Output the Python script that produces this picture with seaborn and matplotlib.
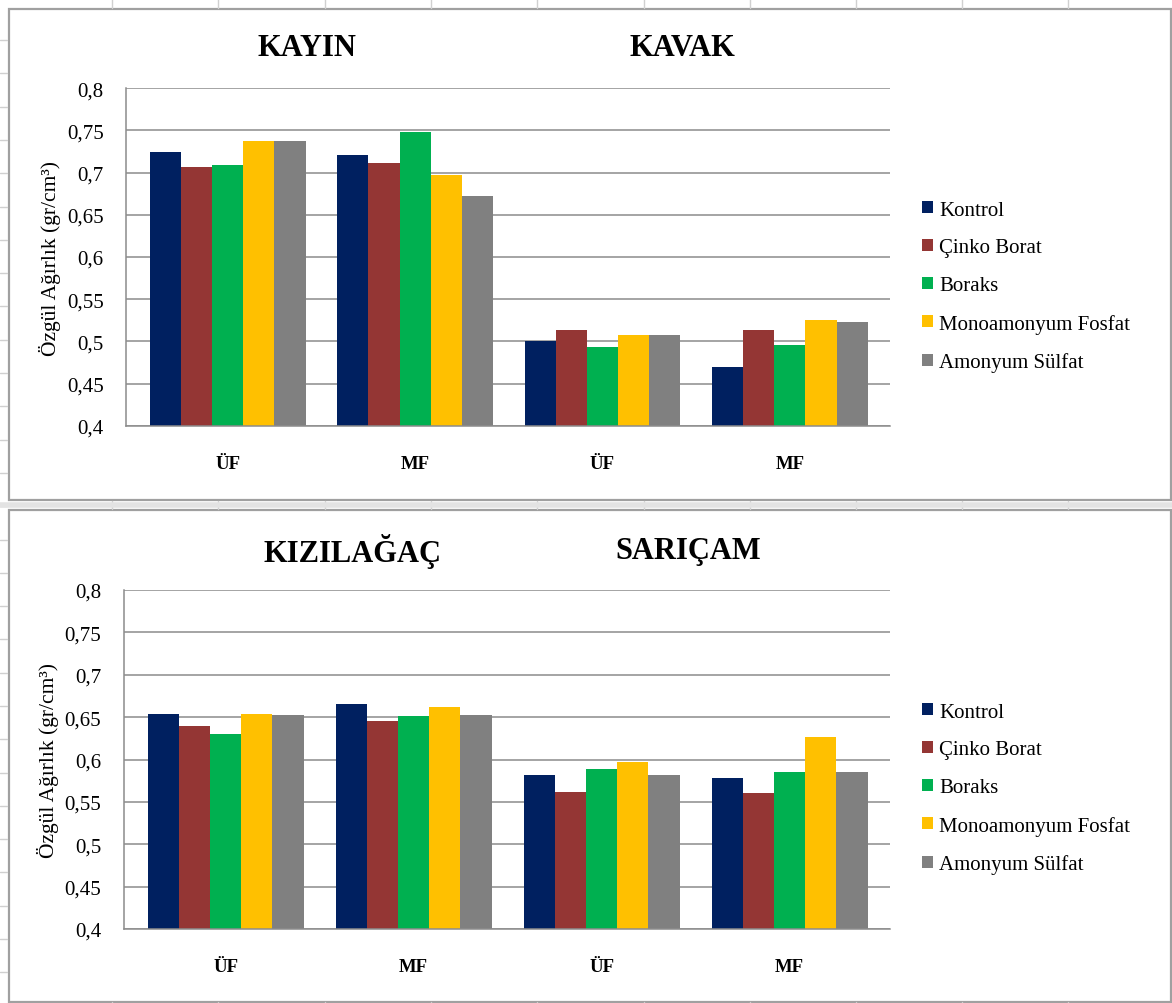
import numpy as np
import pandas as pd
import seaborn as sns
import matplotlib.pyplot as plt
from matplotlib.patches import Rectangle, Patch
from matplotlib.lines import Line2D

# ---- data -------------------------------------------------------------
species = ["KAYIN", "KAVAK", "KIZILAĞAÇ", "SARIÇAM"]
resins = ["ÜF", "MF"]
treatments = ["Kontrol", "Çinko Borat", "Boraks", "Monoamonyum Fosfat", "Amonyum Sülfat"]
colors = ["#002060", "#943634", "#00B050", "#FFC000", "#808080"]

# rows: ÜF, MF ; columns follow `treatments`
kayin = [[0.725, 0.707, 0.709, 0.738, 0.737],
         [0.721, 0.711, 0.748, 0.697, 0.672]]
kavak = [[0.501, 0.513, 0.493, 0.507, 0.507],
         [0.470, 0.513, 0.496, 0.525, 0.523]]
kizilagac = [[0.654, 0.639, 0.630, 0.654, 0.652],
             [0.666, 0.646, 0.651, 0.662, 0.652]]
saricam = [[0.582, 0.562, 0.589, 0.597, 0.582],
           [0.578, 0.560, 0.585, 0.627, 0.585]]

yticks = [0.4, 0.45, 0.5, 0.55, 0.6, 0.65, 0.7, 0.75, 0.8]
ylabel = "Özgül Ağırlık (gr/cm³)"

rows = []
for sp, table in zip(species, [kayin, kavak, kizilagac, saricam]):
    for r, vals in zip(resins, table):
        for t, v in zip(treatments, vals):
            rows.append({"tür": sp, "tutkal": r, "grup": f"{sp} {r}",
                         "işlem": t, "değer": v})
df = pd.DataFrame(rows)

# ---- figure -----------------------------------------------------------
sns.set_style("white")
plt.rcParams["font.family"] = ["Liberation Serif", "DejaVu Serif"]
plt.rcParams.update({"text.color": "black", "axes.labelcolor": "black",
                     "xtick.color": "black", "ytick.color": "black"})

W, H = 1172, 1004
fig = plt.figure(figsize=(W / 100, H / 100), dpi=100)
fig.patch.set_facecolor("white")


def fx(px):
    return px / W


def fy(py):
    return 1 - py / H


GRID = "#8C8C8C"

# spreadsheet cell marks behind the chart objects
col_x = [112, 218, 325, 431, 537, 644, 750, 856, 962, 1068]
for x in col_x:
    for y0, y1 in [(0, 9), (502, 510), (1003, 1004)]:
        fig.add_artist(Line2D([fx(x), fx(x)], [fy(y0), fy(y1)],
                              color="#D0D0D0", lw=1))
for y in np.arange(41, H, 33.3):
    fig.add_artist(Line2D([fx(0), fx(7)], [fy(y), fy(y)], color="#D0D0D0", lw=1))
fig.add_artist(Line2D([fx(0), fx(W)], [fy(506), fy(506)], color="#E3E3E3", lw=4))

# chart object frames
for top, bot in [(9.5, 501), (511, 1003)]:
    fig.add_artist(Rectangle((fx(9), fy(bot)), fx(1171) - fx(9), fy(top) - fy(bot),
                             fill=False, edgecolor="#A0A0A0", lw=1.6))

panels = [
    {"pair": ("KAYIN", "KAVAK"), "box": (126, 89.3, 890, 426.7),
     "titles": [(307, 49), (682, 49)], "legend_y": 287.5},
    {"pair": ("KIZILAĞAÇ", "SARIÇAM"), "box": (123.5, 591, 890, 930),
     "titles": [(352, 552), (688, 552)], "legend_y": 789.5},
]

for p in panels:
    x0, y0, x1, y1 = p["box"]
    ax = fig.add_axes([fx(x0), fy(y1), fx(x1) - fx(x0), fy(y0) - fy(y1)])
    sub = df[df["tür"].isin(p["pair"])]
    order = [f"{s} {r}" for s in p["pair"] for r in resins]
    sns.barplot(data=sub, x="grup", y="değer", hue="işlem", order=order,
                hue_order=treatments, palette=colors, saturation=1,
                width=0.83, linewidth=0, edgecolor="none", ax=ax, legend=False)

    ax.set_ylim(0.4, 0.8)
    xl = (-0.543, 3.534)
    ax.set_xlim(*xl)
    ax.set_yticks(yticks)
    ax.set_yticklabels([f"{v:g}".replace(".", ",") for v in yticks], fontsize=15)
    ax.set_xticks(range(4))
    ax.set_xticklabels(["ÜF", "MF", "ÜF", "MF"], fontsize=13.5, fontweight="bold")
    ax.set_xticks(list(xl), minor=True)
    ax.tick_params(axis="x", which="major", length=0, pad=21)
    ax.tick_params(axis="x", which="minor", length=8, width=1.1, color=GRID)
    ax.tick_params(axis="y", length=8, width=1.1, color=GRID, pad=8)
    ax.set_xlabel("")
    ax.set_ylabel(ylabel, fontsize=15.5, labelpad=4, color="black")

    ax.yaxis.grid(True, color=GRID, lw=1.1)
    ax.xaxis.grid(False)
    ax.set_axisbelow(True)
    for side in ["top", "right"]:
        ax.spines[side].set_visible(False)
    for side in ["left", "bottom"]:
        ax.spines[side].set_color(GRID)
        ax.spines[side].set_linewidth(1.1)

    for name, (tx, ty) in zip(p["pair"], p["titles"]):
        fig.text(fx(tx), fy(ty), name, ha="center", va="center",
                 fontsize=22, fontweight="bold", color="black")

    handles = [Patch(facecolor=c, edgecolor="none") for c in colors]
    fig.legend(handles, treatments, loc="center left",
               bbox_to_anchor=(fx(914), fy(p["legend_y"])),
               frameon=False, fontsize=15, handlelength=0.5, handleheight=0.5,
               handletextpad=0.3, labelspacing=0.9, borderaxespad=0)

fig.savefig("out.png", dpi=100, facecolor="white")
